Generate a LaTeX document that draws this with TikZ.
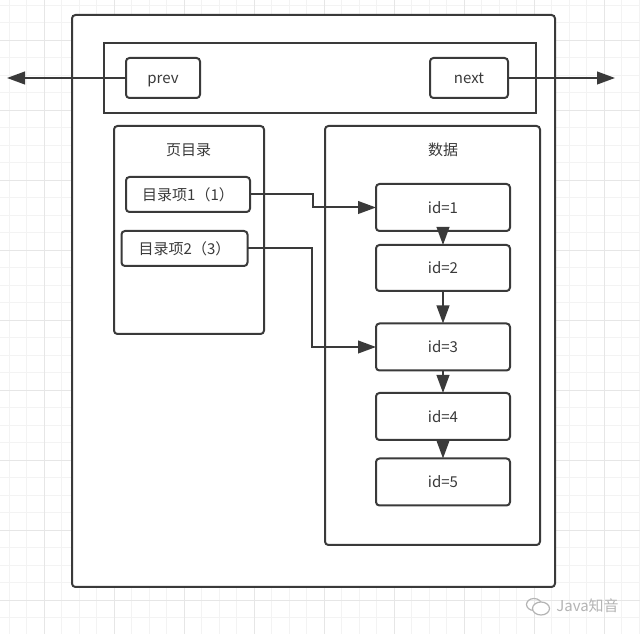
\documentclass[tikz,border=0pt]{standalone}
\usepackage{fontspec}
\setmainfont{Noto Sans CJK SC}
\usetikzlibrary{arrows.meta}
\definecolor{ink}{HTML}{3A3A3A}
\definecolor{minorgrid}{HTML}{F3F3F3}
\definecolor{majorgrid}{HTML}{E6E6E6}
\definecolor{wmgrey}{HTML}{B4B4B4}
\tikzset{
  basebox/.style={draw=ink,fill=white,line width=1.5pt,inner sep=0pt,outer sep=0pt,text=ink,font=\fontsize{11.25pt}{13pt}\selectfont,text height=10pt,text depth=1pt},
  roundbox/.style={basebox,rounded corners=2.6pt},
  sharpbox/.style={basebox},
  link/.style={draw=ink,line width=1.5pt,-{Triangle[length=13.5pt,width=9.5pt,fill=ink]}},
  title/.style={text=ink,font=\fontsize{11.25pt}{13pt}\selectfont,inner sep=0pt,text height=10pt,text depth=1pt},
}
\newcommand{\pxbox}[6]{%
  \node[#1,minimum width={(#5-#3)*0.75pt},minimum height={(#6-#4)*0.75pt}] (#2) at ({(#3+#5)/2},{(#4+#6)/2}) {};}
\begin{document}
\begin{tikzpicture}[x=0.75pt,y=-0.75pt]
\useasboundingbox (0,0) rectangle (640,634);
\fill[white] (0,0) rectangle (640,634);
% background grid
\foreach \k in {-2,...,36} {
  \draw[minorgrid,line width=0.75pt] ({9+17.5*\k},0) -- ({9+17.5*\k},634);
  \draw[minorgrid,line width=0.75pt] (0,{5.5+17.5*\k}) -- (640,{5.5+17.5*\k});
}
\foreach \k in {0,...,8} {
  \draw[majorgrid,line width=0.75pt] ({44.5+70*\k},0) -- ({44.5+70*\k},634);
  \draw[majorgrid,line width=0.75pt] (0,{40.5+70*\k}) -- (640,{40.5+70*\k});
}
% containers
\pxbox{roundbox}{page}{72}{15}{555}{587}
\pxbox{sharpbox}{header}{104}{43}{536}{113}
\pxbox{roundbox}{dir}{114}{126}{264}{334}
\pxbox{roundbox}{data}{325}{126}{540}{545}
% titles
\node[title] (dirtitle) at (188.5,150) {页目录};
\node[title] (datatitle) at (443,150) {数据};
% free ends
\coordinate (leftend) at (7,78);
\coordinate (rightend) at (615,78);
% inner boxes
\node[roundbox,minimum width={74*0.75pt},minimum height={40*0.75pt}] (prev) at (163,78) {prev};
\node[roundbox,minimum width={78*0.75pt},minimum height={40*0.75pt}] (next) at (469,78) {next};
\node[roundbox,minimum width={124*0.75pt},minimum height={35*0.75pt}] (item1) at (188,194.5) {目录项1（1）};
\node[roundbox,minimum width={126*0.75pt},minimum height={35*0.75pt}] (item2) at (184.5,248.5) {目录项2（3）};
\node[roundbox,minimum width={134*0.75pt},minimum height={47*0.75pt}] (id1) at (443,207.5) {id=1};
\node[roundbox,minimum width={134*0.75pt},minimum height={46*0.75pt}] (id2) at (443,268) {id=2};
\node[roundbox,minimum width={134*0.75pt},minimum height={47*0.75pt}] (id3) at (443,347) {id=3};
\node[roundbox,minimum width={134*0.75pt},minimum height={47*0.75pt}] (id4) at (443,416.5) {id=4};
\node[roundbox,minimum width={134*0.75pt},minimum height={47*0.75pt}] (id5) at (443,482) {id=5};
% connectors
\draw[link] (prev.west) -- (leftend);
\draw[link] (next.east) -- (rightend);
\draw[link] (item1.east) -- ++(63,0) |- (id1.west);
\draw[link] (item2.east) -- ++(64.5,0) |- (id3.west);
\draw[link] (id1.south) -- (id2.north);
\draw[link] (id2.south) -- (id3.north);
\draw[link] (id3.south) -- (id4.north);
\draw[link] (id4.south) -- (id5.north);
% watermark
\draw[wmgrey,line width=0.9pt] (534,604.5) ellipse (7.5 and 6);
\draw[wmgrey,line width=0.9pt,fill=white] (541,608.5) ellipse (8.5 and 6.5);
\node[text=wmgrey,font=\fontsize{11.25pt}{13pt}\selectfont,inner sep=0pt] (wm) at (587.5,606) {Java知音};
\end{tikzpicture}
\end{document}
